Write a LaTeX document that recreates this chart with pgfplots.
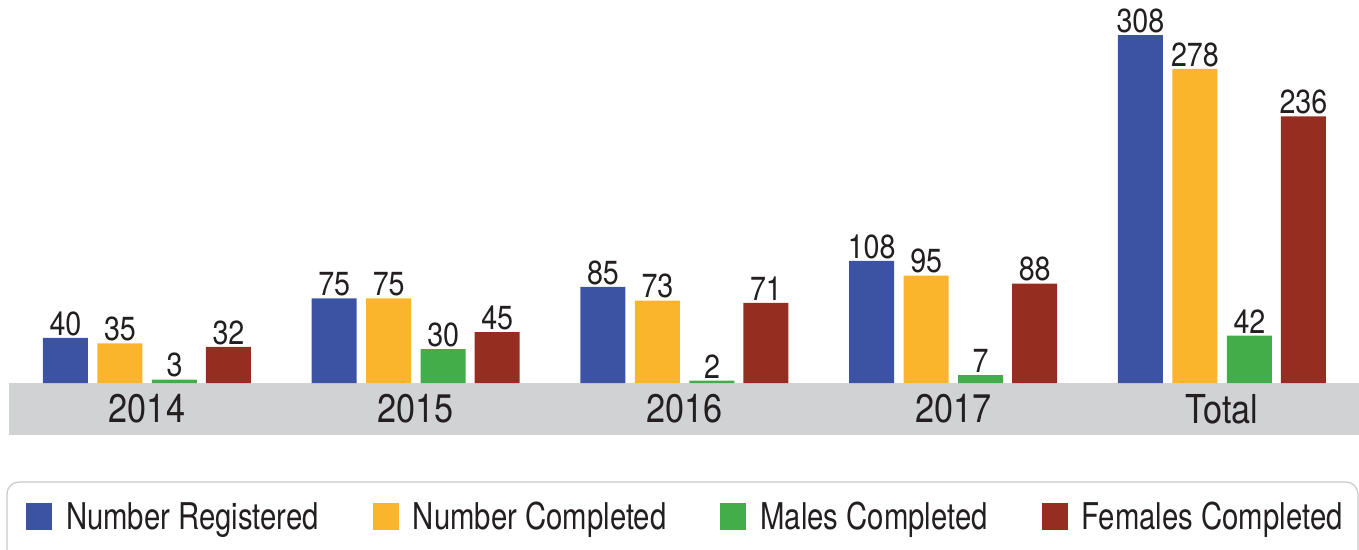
\documentclass[border=0pt]{standalone}
\usepackage{pgfplots}
\pgfplotsset{compat=1.18}
\usepackage{fontspec}
\setmainfont{TeX Gyre Heros}[FakeStretch=0.86]
\newfontfamily\legfont{TeX Gyre Heros}[FakeStretch=0.795]
\definecolor{cReg}{HTML}{3C53A4}
\definecolor{cCom}{HTML}{FBB52C}
\definecolor{cMal}{HTML}{43AD49}
\definecolor{cFem}{HTML}{952E20}
\definecolor{cBand}{HTML}{D1D2D4}
\definecolor{cText}{HTML}{231F20}
\definecolor{cBox}{HTML}{C8C8C8}
\begin{document}
\begin{tikzpicture}
\useasboundingbox (0,0) rectangle (1359bp,550bp);
\clip (0,0) rectangle (1359bp,550bp);
\fill[cBand] (9bp,115bp) rectangle (1359bp,167bp);
\draw[cBox, line width=1.2bp, rounded corners=12bp] (7bp,68bp) rectangle (1358bp,-30bp);
\begin{axis}[
  at={(9bp,167bp)}, anchor=south west,
  scale only axis, width=1350bp, height=383bp,
  xmin=-0.5135, xmax=4.51, ymin=0, ymax=339,
  axis line style={draw=none},
  ytick=\empty,
  xtick={0,1,2,3,4},
  xticklabels={2014,2015,2016,2017,Total},
  major tick length=0pt,
  ybar, bar width=45bp,
  nodes near coords,
  nodes near coords style={font=\fontsize{33.5}{33.5}\selectfont, text=cText, anchor=south, inner sep=0pt, yshift=2bp},
  xticklabel style={font=\fontsize{40}{40}\selectfont, text=cText, inner sep=0pt, anchor=north, yshift=-11bp},
  /pgf/number format/assume math mode=true,
  legend columns=4,
  legend style={at={(axis description cs:0.0126,-0.3497)}, anchor=west, draw=none, fill=none,
    inner sep=0pt, outer sep=0pt, font=\legfont\fontsize{37}{37}\selectfont, text=cText,
    column sep=0pt,
    /tikz/every odd column/.style={column sep=12bp},
    /tikz/every even column/.style={column sep=52bp}},
  legend image code/.code={\fill[#1] (0bp,-13bp) rectangle (26bp,14bp);},
  clip=false,
]
\addplot[fill=cReg, draw=none, bar shift=-81.5bp] coordinates {(0,40) (1,75) (2,85) (3,108) (4,308)};
\addplot[fill=cCom, draw=none, bar shift=-27bp] coordinates {(0,35) (1,75) (2,73) (3,95) (4,278)};
\addplot[fill=cMal, draw=none, bar shift=27.5bp] coordinates {(0,3) (1,30) (2,2) (3,7) (4,42)};
\addplot[fill=cFem, draw=none, bar shift=81.5bp] coordinates {(0,32) (1,45) (2,71) (3,88) (4,236)};
\legend{Number Registered, Number Completed, Males Completed, Females Completed}
\end{axis}
\end{tikzpicture}
\end{document}
